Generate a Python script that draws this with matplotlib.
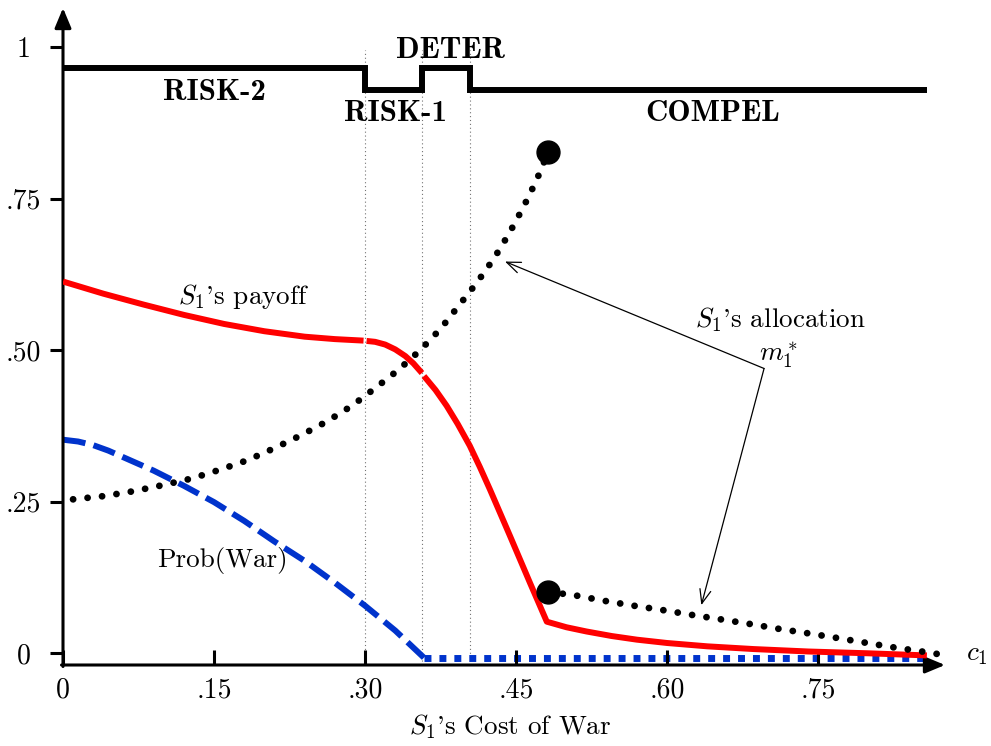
"""Equilibrium regimes, payoff, allocation and war probability against S1's cost of war."""

import matplotlib.pyplot as plt

plt.rcParams['mathtext.fontset'] = 'cm'
plt.rcParams['font.family'] = 'cmr10'
plt.rcParams['axes.unicode_minus'] = False

# regime bands along the top of the chart
REGIME_EDGES = [0.0, 0.30, 0.357, 0.404, 0.858]
REGIME_LEVELS = [0.965, 0.929, 0.965, 0.929]
REGIME_NAMES = ['RISK-2', 'RISK-1', 'DETER', 'COMPEL']

# S1's payoff, drawn as three pieces
payoff_risk2_x = [0.0, 0.04, 0.08, 0.12, 0.16, 0.20, 0.24, 0.27, 0.2985]
payoff_risk2_y = [0.613, 0.593, 0.575, 0.558, 0.543, 0.531, 0.522, 0.518,
                  0.5155]
payoff_risk1_x = [0.3015, 0.310, 0.320, 0.330, 0.340, 0.348, 0.3565]
payoff_risk1_y = [0.515, 0.5135, 0.509, 0.501, 0.490, 0.478, 0.462]
payoff_rest_x = [0.3585, 0.370, 0.381, 0.392, 0.404, 0.414, 0.424, 0.444,
                 0.464, 0.4805, 0.500, 0.520, 0.545, 0.570, 0.600, 0.640,
                 0.686, 0.740, 0.800, 0.858]
payoff_rest_y = [0.457, 0.434, 0.408, 0.378, 0.342, 0.307, 0.270, 0.193,
                 0.115, 0.0517, 0.0425, 0.0355, 0.028, 0.022, 0.0165, 0.011,
                 0.0065, 0.0025, -0.0005, -0.004]

# S1's allocation m1*, before and after the jump
alloc_low_x = [0.010, 0.041, 0.070, 0.099, 0.128, 0.155, 0.183, 0.210,
               0.236, 0.262, 0.287, 0.310, 0.333, 0.355, 0.375, 0.393,
               0.411, 0.428, 0.443, 0.457, 0.470, 0.482]
alloc_low_y = [0.2536, 0.259, 0.267, 0.277, 0.288, 0.302, 0.318, 0.338,
               0.359, 0.382, 0.408, 0.437, 0.467, 0.500, 0.535, 0.573,
               0.611, 0.651, 0.692, 0.735, 0.779, 0.827]
alloc_high_x = [0.482, 0.509, 0.538, 0.567, 0.595, 0.624, 0.653, 0.682,
                0.7105, 0.740, 0.769, 0.797, 0.826, 0.855, 0.870]
alloc_high_y = [0.101, 0.095, 0.086, 0.078, 0.071, 0.063, 0.0556, 0.048,
                0.040, 0.0325, 0.0248, 0.017, 0.009, 0.002, -0.002]

# probability of war
war_x = [0.0, 0.015, 0.03, 0.045, 0.06, 0.09, 0.12, 0.15, 0.18, 0.21,
         0.24, 0.27, 0.30, 0.33, 0.3585]
war_y = [0.352, 0.349, 0.343, 0.334, 0.323, 0.301, 0.276, 0.249, 0.218,
         0.184, 0.152, 0.116, 0.078, 0.037, -0.0077]
peace_x = [0.3585, 0.858]
peace_y = [-0.0077, -0.0077]

X_TICKS = [0, 0.15, 0.30, 0.45, 0.60, 0.75]
X_LABELS = ['0', '.15', '.30', '.45', '.60', '.75']
Y_TICKS = [0, 0.25, 0.50, 0.75, 1.0]
Y_LABELS = ['0', '.25', '.50', '.75', '1']

RED = '#ff0000'
BLUE = '#0033cc'
TEXT_SIZE = 19.5


def main():
    fig = plt.figure(figsize=(9.91, 7.46), dpi=100)
    ax = fig.add_axes([63 / 991, 81 / 746, 882 / 991, 657 / 746])
    ax.set_xlim(0, 0.876)
    ax.set_ylim(-0.0198, 1.0644)
    for spine in ax.spines.values():
        spine.set_visible(False)

    # axes drawn as arrows
    arrow = dict(arrowstyle='-|>,head_length=0.6,head_width=0.25', lw=2.2,
                 color='black', shrinkA=0, shrinkB=0, mutation_scale=20)
    ax.annotate('', xy=(1, 0), xytext=(-0.0017, 0), xycoords='axes fraction',
                arrowprops=arrow, annotation_clip=False)
    ax.annotate('', xy=(0, 1), xytext=(0, -0.0023), xycoords='axes fraction',
                arrowprops=arrow, annotation_clip=False)

    ax.set_xticks(X_TICKS, X_LABELS)
    ax.set_yticks(Y_TICKS, Y_LABELS)
    ax.tick_params(axis='x', direction='in', length=10.8, width=2.2,
                   pad=9, labelsize=20)
    ax.tick_params(axis='y', direction='out', length=9.4, width=2.2,
                   pad=19, labelsize=20)
    for label in ax.get_yticklabels():
        label.set_horizontalalignment('center')

    # regime boundaries
    ax.vlines(REGIME_EDGES[1:4], -0.0198, 0.995, colors='0.45',
              linestyles=(0, (1, 2.5)), linewidth=0.8, zorder=1)
    ax.step(REGIME_EDGES, REGIME_LEVELS + [REGIME_LEVELS[-1]], where='post',
            color='black', linewidth=4.3, solid_joinstyle='miter',
            solid_capstyle='butt', zorder=4)
    label_pos = [(0.1505, 0.925), (0.3298, 0.891), (0.385, 0.994),
                 (0.645, 0.891)]
    for name, (lx, ly) in zip(REGIME_NAMES, label_pos):
        ax.text(lx, ly, name, fontfamily='cmb10', fontsize=22.3,
                ha='center', va='center')

    # probability of war
    ax.plot(war_x, war_y, color=BLUE, linewidth=4.3, dashes=(3.8, 1.4),
            dash_capstyle='butt', zorder=1)
    ax.plot(peace_x, peace_y, color=BLUE, linewidth=5, dashes=(1, 1.15),
            dash_capstyle='butt', zorder=1)

    # payoff
    for px, py in [(payoff_risk2_x, payoff_risk2_y),
                   (payoff_risk1_x, payoff_risk1_y),
                   (payoff_rest_x, payoff_rest_y)]:
        ax.plot(px, py, color=RED, linewidth=4.3, solid_capstyle='butt',
                solid_joinstyle='round', zorder=3)

    # allocation
    for mx, my in [(alloc_low_x, alloc_low_y), (alloc_high_x, alloc_high_y)]:
        ax.plot(mx, my, color='black', linewidth=4.9, dashes=(0.01, 2.13),
                dash_capstyle='round', zorder=5)
    ax.plot([alloc_low_x[-1], alloc_high_x[0]],
            [alloc_low_y[-1], alloc_high_y[0]], 'o', color='black',
            markersize=16.5, linestyle='none', zorder=6)

    # labels on the curves
    ax.text(0.1798, 0.589, "$S_1$'s payoff", fontsize=TEXT_SIZE,
            ha='center', va='center')
    ax.text(0.158, 0.152, 'Prob(War)', fontsize=TEXT_SIZE,
            ha='center', va='center')
    ax.text(0.7125, 0.5495, "$S_1$'s allocation", fontsize=TEXT_SIZE,
            ha='center', va='center')
    ax.text(0.711, 0.492, '$m_1^*$', fontsize=TEXT_SIZE,
            ha='center', va='center')
    pointer = dict(arrowstyle='->,head_length=0.5,head_width=0.2', lw=0.9,
                   color='black', shrinkA=0, shrinkB=0, mutation_scale=20)
    origin = (0.6963, 0.4695)
    ax.annotate('', xy=(0.439, 0.646), xytext=origin, arrowprops=pointer)
    ax.annotate('', xy=(0.634, 0.079), xytext=origin, arrowprops=pointer)

    fig.text(510 / 991, 1 - 727 / 746, "$S_1$'s Cost of War",
             fontsize=TEXT_SIZE, ha='center', va='center')
    fig.text(977 / 991, 1 - 655 / 746, '$c_1$', fontsize=TEXT_SIZE,
             ha='center', va='center')

    fig.savefig('out.png', dpi=100)


if __name__ == '__main__':
    main()
